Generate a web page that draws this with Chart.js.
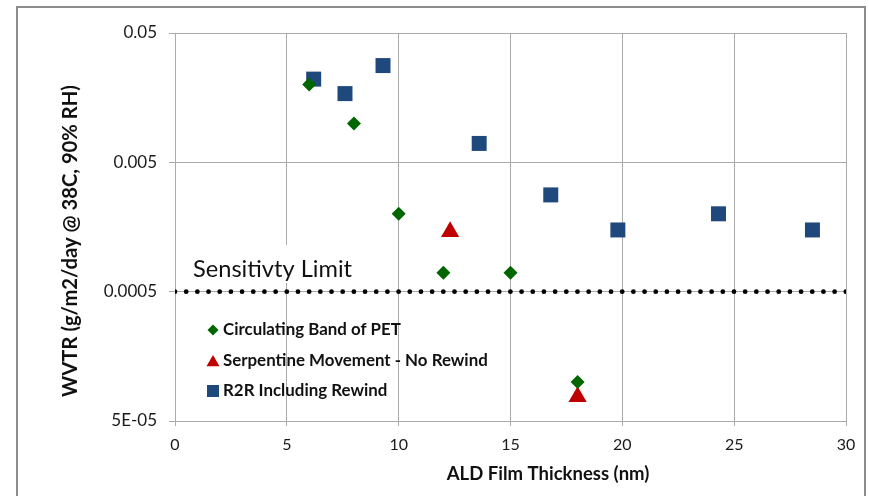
<!DOCTYPE html>
<html>
<head>
<meta charset="utf-8">
<script src="https://cdn.jsdelivr.net/npm/chart.js@4/dist/chart.umd.min.js"></script>
<style>
  body { margin: 0; background: #fff; }
  canvas { display: block; }
</style>
</head>
<body>
<canvas id="wvtr" width="869" height="496"></canvas>
<script>
// series values (x = ALD film thickness in nm, y = WVTR)
const petX = [6, 8, 10, 12, 15, 18];
const petY = [0.02, 0.01, 0.002, 0.0007, 0.0007, 0.0001];

const serpX = [12.3, 18];
const serpY = [0.00145, 0.000077];

const r2rX = [6.2, 7.6, 9.3, 13.6, 16.8, 19.8, 24.3, 28.5];
const r2rY = [0.022, 0.017, 0.028, 0.007, 0.0028, 0.0015, 0.002, 0.0015];

const seriesNames = ['Circulating Band of PET', 'Serpentine Movement - No Rewind', 'R2R Including Rewind'];

const limitX = [0, 30];
const limitY = [0.0005, 0.0005];
const limitLabel = 'Sensitivty Limit';

const yTickVals = [0.00005, 0.0005, 0.005, 0.05];
const yTickLabels = ['5E-05', '0.0005', '0.005', '0.05'];

const xTitle = 'ALD Film Thickness (nm)';
const yTitle = 'WVTR (g/m2/day @ 38C, 90% RH)';

const GREEN = '#006600';
const RED = '#C00000';
const BLUE = '#1F497D';
const FONT = 'Lato, "Open Sans", sans-serif';

function toPoints(xs, ys) {
  return xs.map((x, i) => ({ x: x, y: ys[i] }));
}

// pick a font size so the text is about as wide as in the original (Calibri there)
function fitFont(ctx, text, weight, width) {
  ctx.font = weight + ' 20px ' + FONT;
  const size = 20 * width / ctx.measureText(text).width;
  return weight + ' ' + size.toFixed(2) + 'px ' + FONT;
}

// frame, sensitivity label box, legend and axis titles
const extras = {
  id: 'extras',
  beforeDraw(chart) {
    const ctx = chart.ctx;
    ctx.save();
    ctx.fillStyle = '#fff';
    ctx.fillRect(0, 0, chart.width, chart.height);
    ctx.strokeStyle = '#8c8c8c';
    ctx.lineWidth = 2;
    ctx.strokeRect(17, 7, 848, 500);
    ctx.restore();
  },
  beforeDatasetsDraw(chart) {
    const ctx = chart.ctx;
    ctx.save();
    ctx.fillStyle = '#fff';
    ctx.fillRect(185, 245, 175, 38);
    ctx.fillStyle = '#111';
    ctx.font = fitFont(ctx, limitLabel, 'normal', 159);
    ctx.textBaseline = 'alphabetic';
    ctx.fillText(limitLabel, 193, 277);
    ctx.restore();
  },
  afterDatasetsDraw(chart) {
    const ctx = chart.ctx;
    ctx.save();
    const rows = [
      { style: 'rectRot', r: 5.5, color: GREEN, y: 330 },
      { style: 'triangle', r: 7.5, color: RED, y: 361 },
      { style: 'rect', r: 8.5, color: BLUE, y: 391 }
    ];
    const legendFont = fitFont(ctx, seriesNames[0], 'bold', 178);
    rows.forEach((row, i) => {
      ctx.fillStyle = row.color;
      ctx.strokeStyle = row.color;
      Chart.helpers.drawPoint(ctx, { pointStyle: row.style, radius: row.r, borderWidth: 0 }, 213, row.y + (row.style === 'triangle' ? 1.5 : 0));
      ctx.fillStyle = '#111';
      ctx.font = legendFont;
      ctx.textBaseline = 'middle';
      ctx.fillText(seriesNames[i], 223, row.y);
    });

    ctx.fillStyle = '#111';
    ctx.font = fitFont(ctx, xTitle, 'bold', 203);
    ctx.textAlign = 'center';
    ctx.textBaseline = 'middle';
    ctx.fillText(xTitle, 548, 474);

    ctx.translate(70, 241);
    ctx.rotate(-Math.PI / 2);
    ctx.font = fitFont(ctx, yTitle, 'bold', 312);
    ctx.fillText(yTitle, 0, 0);
    ctx.restore();
  }
};

const ctx = document.getElementById('wvtr').getContext('2d');

new Chart(ctx, {
  type: 'scatter',
  data: {
    datasets: [
      {
        label: seriesNames[0],
        data: toPoints(petX, petY),
        pointStyle: 'rectRot',
        pointRadius: 7,
        backgroundColor: GREEN,
        borderColor: GREEN,
        borderWidth: 0
      },
      {
        label: seriesNames[1],
        data: toPoints(serpX, serpY),
        pointStyle: 'triangle',
        pointRadius: 10.5,
        backgroundColor: RED,
        borderColor: RED,
        borderWidth: 0
      },
      {
        label: seriesNames[2],
        data: toPoints(r2rX, r2rY),
        pointStyle: 'rect',
        pointRadius: 10.6,
        backgroundColor: BLUE,
        borderColor: BLUE,
        borderWidth: 0
      },
      {
        label: limitLabel,
        data: toPoints(limitX, limitY),
        showLine: true,
        pointRadius: 0,
        borderColor: '#000',
        borderWidth: 4.8,
        borderDash: [0, 11.18],
        borderCapStyle: 'round',
        order: 5
      }
    ]
  },
  options: {
    responsive: false,
    animation: false,
    layout: {
      padding: { top: 33, right: 23, left: 0, bottom: 0 }
    },
    plugins: {
      legend: { display: false },
      tooltip: { enabled: false },
      title: { display: false }
    },
    scales: {
      x: {
        type: 'linear',
        min: 0,
        max: 30,
        afterFit(scale) { scale.height = 75; },
        ticks: {
          stepSize: 5,
          padding: 9,
          color: '#1a1a1a',
          font: { family: FONT, size: 16 }
        },
        grid: { color: '#ababab', lineWidth: 1, tickLength: 5 },
        border: { color: '#ababab' }
      },
      y: {
        type: 'logarithmic',
        min: 0.00005,
        max: 0.05,
        afterFit(scale) { scale.width = 175; },
        afterBuildTicks(scale) {
          scale.ticks = yTickVals.map(v => ({ value: v }));
        },
        ticks: {
          padding: 12,
          color: '#1a1a1a',
          font: { family: FONT, size: 17 },
          callback(value) {
            const i = yTickVals.findIndex(v => Math.abs(v - value) / v < 1e-6);
            return i >= 0 ? yTickLabels[i] : '';
          }
        },
        grid: { color: '#ababab', lineWidth: 1, tickLength: 6 },
        border: { color: '#ababab' }
      }
    }
  },
  plugins: [extras]
});
</script>
</body>
</html>
